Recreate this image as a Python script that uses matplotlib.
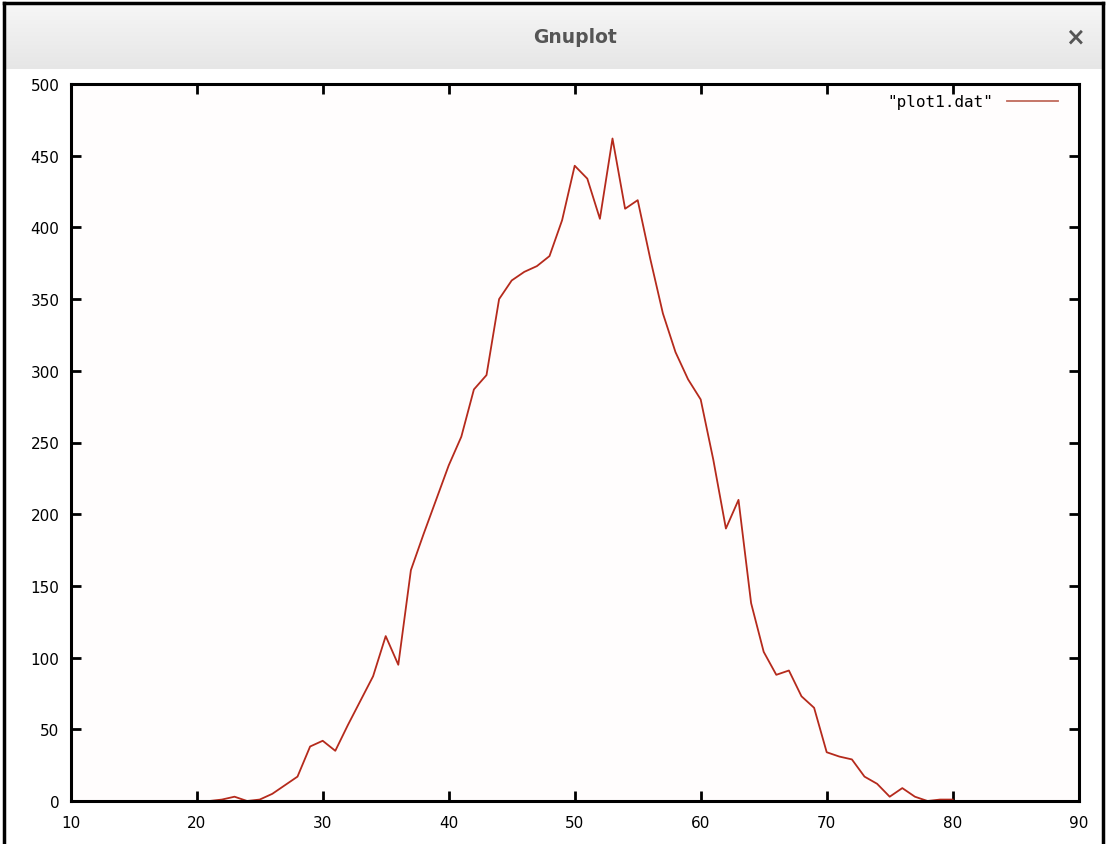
import numpy as np
import matplotlib
matplotlib.use("Agg")
import matplotlib.pyplot as plt
from matplotlib.lines import Line2D
from matplotlib.colors import LinearSegmentedColormap

# Data
x_vals = list(range(21, 81))
y_vals = [0, 1, 3, 0, 1, 5, 11, 17, 38, 42,
          35, 53, 70, 87, 115, 95, 161, 186, 210, 234,
          254, 287, 297, 350, 363, 369, 373, 380, 405, 443,
          434, 406, 462, 413, 419, 378, 340, 313, 294, 280,
          238, 190, 210, 138, 104, 88, 91, 73, 65, 34,
          31, 29, 17, 12, 3, 9, 3, 0, 1, 1]

x_ticks = [10, 20, 30, 40, 50, 60, 70, 80, 90]
y_ticks = [0, 50, 100, 150, 200, 250, 300, 350, 400, 450, 500]
legend_label = '"plot1.dat"'
window_title = "Gnuplot"

W, H = 1106, 845
fig = plt.figure(figsize=(W / 100, H / 100), dpi=100)
fig.patch.set_facecolor("#ffffff")

# Title bar with gradient
tb = fig.add_axes([4 / W, 1 - 70 / H, (W - 8) / W, 65 / H])
grad = np.linspace(0, 1, 100).reshape(-1, 1)
cmap = LinearSegmentedColormap.from_list("tb", ["#f6f6f6", "#e6e6e6"])
tb.imshow(grad, aspect="auto", cmap=cmap, extent=[0, 1, 0, 1], origin="upper")
tb.set_axis_off()
tb.text(0.52, 0.5, window_title, ha="center", va="center", fontsize=13.5,
        color="#555555", fontweight="bold", family="DejaVu Sans")
tb.text(0.975, 0.5, "×", ha="center", va="center", fontsize=17,
        color="#555555", fontweight="bold")

# Window frame
fig.add_artist(Line2D([4 / W, 4 / W], [0, 1 - 4 / H], transform=fig.transFigure, color="black", lw=2.5))
fig.add_artist(Line2D([4 / W, 1 - 3 / W], [1 - 4 / H, 1 - 4 / H], transform=fig.transFigure, color="black", lw=2.5))
fig.add_artist(Line2D([1 - 3 / W, 1 - 3 / W], [0, 1 - 4 / H], transform=fig.transFigure, color="black", lw=2.5))

left, right = 70.7, 1078.7
top, bottom = 85, 802
ax = fig.add_axes([left / W, (H - bottom) / H, (right - left) / W, (bottom - top) / H])
ax.set_facecolor("#fffdfd")
ax.plot(x_vals, y_vals, color="#b52a1c", lw=1.3, label=legend_label)
ax.set_xlim(10, 90)
ax.set_ylim(0, 500)
ax.set_xticks(x_ticks)
ax.set_yticks(y_ticks)
for s in ax.spines.values():
    s.set_linewidth(2.2)
    s.set_color("black")
ax.tick_params(direction="in", length=7, width=2, top=True, right=True,
               labelsize=11, colors="black", pad=8)
ax.tick_params(axis="x", pad=10)
for lab in ax.get_xticklabels() + ax.get_yticklabels():
    lab.set_family("DejaVu Sans")

leg = ax.legend(loc="upper right", frameon=False,
                bbox_to_anchor=(1 - 14 / 1008, 1 - 4 / 717),
                handlelength=3.2, borderaxespad=0.0, handletextpad=0.9,
                markerfirst=False, prop={"family": "DejaVu Sans Mono", "size": 11.5})
for l in leg.get_lines():
    l.set_color("#c06a5c")

fig.savefig("out.png", dpi=100)
